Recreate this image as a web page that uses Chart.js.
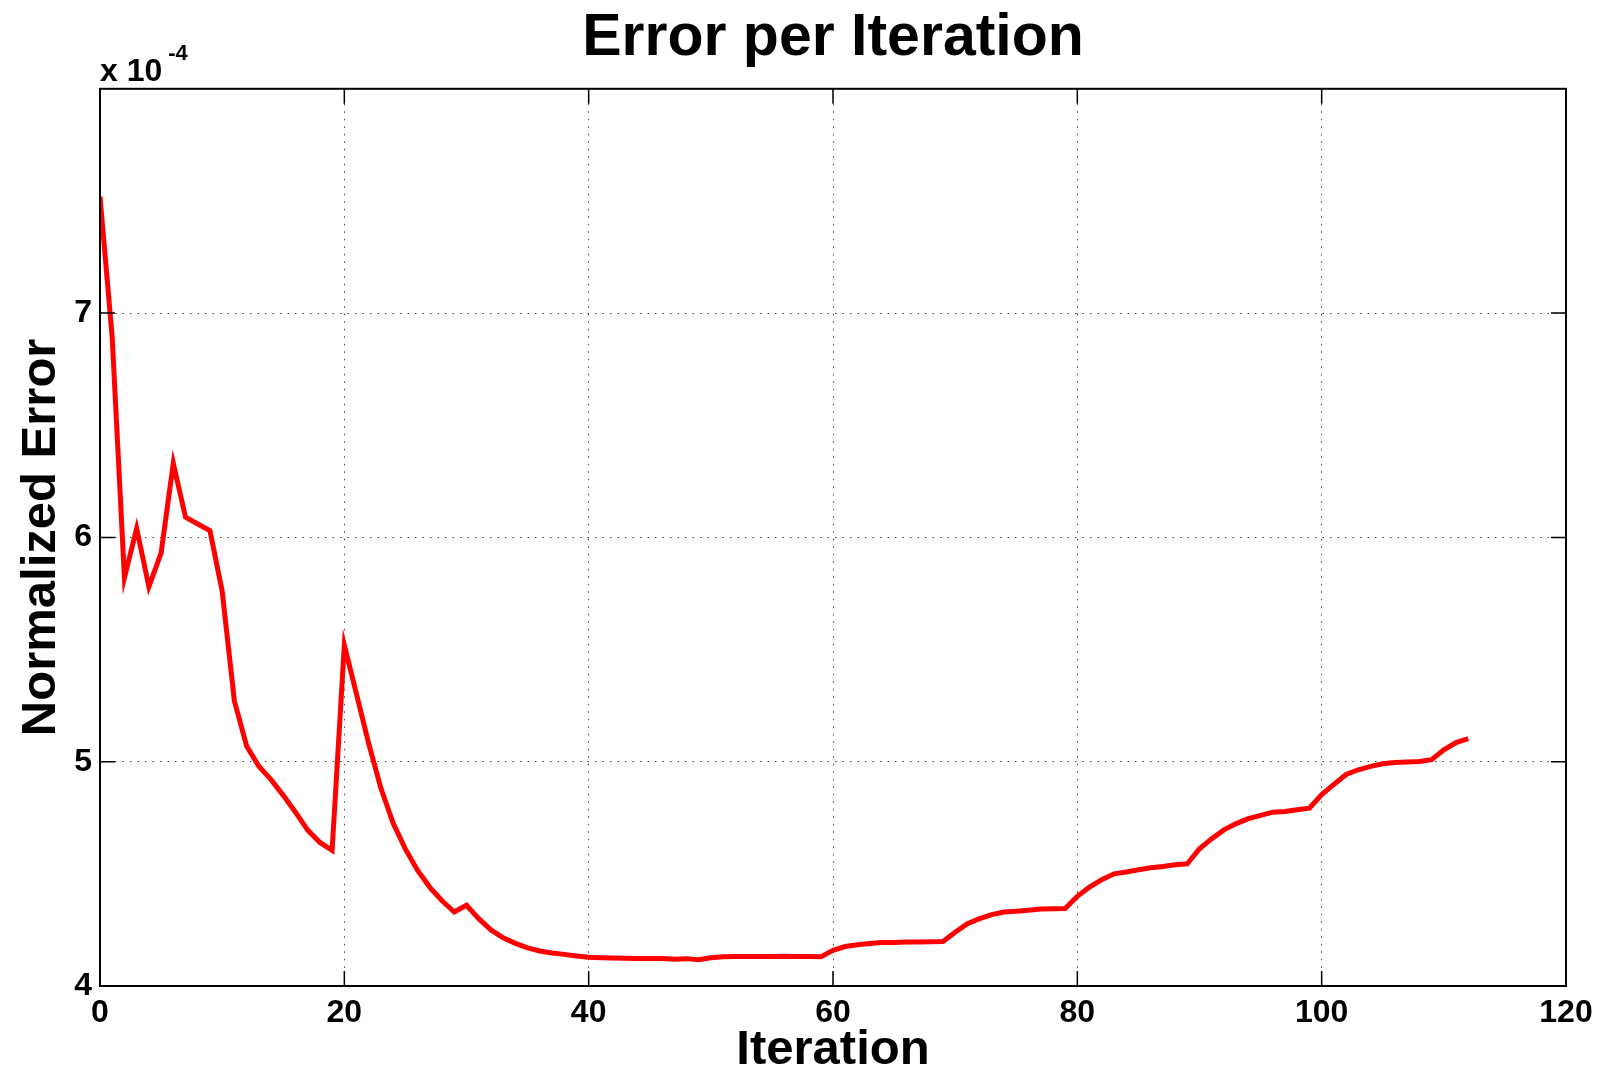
<!DOCTYPE html>
<html lang="en">
<head>
    <meta charset="UTF-8">
    <title>Error per Iteration</title>
    <script src="https://cdn.jsdelivr.net/npm/chart.js"></script>
    <style>
        html, body { margin: 0; padding: 0; background: #fff; }
        #wrap { width: 1600px; height: 1075px; }
    </style>
</head>
<body>
    <div id="wrap"><canvas id="errorChart"></canvas></div>

    <script>
        // normalized error (x 10^-4), one value per iteration starting at 0
        const errorValues = [
            7.52, 6.89, 5.82, 6.04, 5.78, 5.93, 6.33, 6.09, 6.06, 6.03,
            5.76, 5.27, 5.07, 4.98, 4.92, 4.85, 4.775, 4.695, 4.64, 4.605,
            5.52, 5.30, 5.08, 4.88, 4.725, 4.61, 4.515, 4.44, 4.38, 4.33,
            4.36, 4.30, 4.25, 4.215, 4.19, 4.17, 4.156, 4.147, 4.141, 4.134,
            4.128, 4.126, 4.125, 4.124, 4.123, 4.123, 4.123, 4.119, 4.122, 4.117,
            4.126, 4.130, 4.132, 4.132, 4.132, 4.132, 4.133, 4.132, 4.131, 4.130,
            4.159, 4.176, 4.184, 4.189, 4.194, 4.194, 4.196, 4.196, 4.197, 4.198,
            4.24, 4.278, 4.30, 4.318, 4.33, 4.333, 4.338, 4.343, 4.344, 4.345,
            4.40, 4.441, 4.474, 4.50, 4.508, 4.518, 4.527, 4.533, 4.541, 4.545,
            4.612, 4.657, 4.696, 4.724, 4.746, 4.761, 4.775, 4.778, 4.786, 4.793,
            4.853, 4.899, 4.943, 4.964, 4.979, 4.991, 4.996, 4.999, 5.001, 5.009,
            5.053, 5.085, 5.103
        ];
        const iterations = errorValues.map((_, i) => i);

        const xTicks = [0, 20, 40, 60, 80, 100, 120];
        const yTicks = [4, 5, 6, 7];

        const FONT = '"Liberation Sans", Arial, Helvetica, sans-serif';

        // matlab style box, inward ticks and the exponent label
        const matlabAxes = {
            id: 'matlabAxes',
            afterDraw(chart) {
                const { ctx, chartArea: a, scales } = chart;
                const tl = 15;
                ctx.save();
                ctx.strokeStyle = '#000';
                ctx.lineWidth = 2;
                ctx.strokeRect(a.left, a.top, a.right - a.left, a.bottom - a.top);
                ctx.lineWidth = 1.5;
                ctx.beginPath();
                xTicks.forEach(v => {
                    const px = scales.x.getPixelForValue(v);
                    ctx.moveTo(px, a.bottom); ctx.lineTo(px, a.bottom - tl);
                    ctx.moveTo(px, a.top); ctx.lineTo(px, a.top + tl);
                });
                yTicks.forEach(v => {
                    const py = scales.y.getPixelForValue(v);
                    ctx.moveTo(a.left, py); ctx.lineTo(a.left + tl, py);
                    ctx.moveTo(a.right, py); ctx.lineTo(a.right - tl, py);
                });
                ctx.stroke();

                ctx.fillStyle = '#000';
                ctx.textBaseline = 'alphabetic';
                ctx.textAlign = 'left';
                ctx.font = 'bold 32px ' + FONT;
                const base = 'x 10';
                ctx.fillText(base, a.left, a.top - 8);
                const w = ctx.measureText(base).width;
                ctx.font = 'bold 22px ' + FONT;
                ctx.fillText('-4', a.left + w + 6, a.top - 29);
                ctx.restore();
            }
        };

        const gridColor = ctx => {
            const v = ctx.tick && ctx.tick.value;
            return (v === ctx.scale.min || v === ctx.scale.max) ? 'rgba(0,0,0,0)' : '#444';
        };

        new Chart(document.getElementById('errorChart'), {
            type: 'line',
            data: {
                datasets: [{
                    label: 'Normalized Error',
                    data: iterations.map((it, i) => ({ x: it, y: errorValues[i] })),
                    borderColor: '#ff0000',
                    borderWidth: 5,
                    pointRadius: 0,
                    tension: 0,
                    fill: false
                }]
            },
            options: {
                responsive: true,
                maintainAspectRatio: false,
                animation: false,
                layout: { padding: { top: 0, right: 34, bottom: 0, left: 0 } },
                plugins: {
                    legend: { display: false },
                    tooltip: { enabled: false },
                    title: {
                        display: true,
                        fullSize: false,
                        text: 'Error per Iteration',
                        color: '#000',
                        font: { family: FONT, size: 59, weight: 'bold' },
                        padding: { top: 3, bottom: 15 }
                    }
                },
                scales: {
                    x: {
                        type: 'linear',
                        min: 0,
                        max: 120,
                        afterBuildTicks: s => { s.ticks = xTicks.map(v => ({ value: v })); },
                        afterFit: s => { s.height = 89; s.paddingLeft = 0; s.paddingRight = 0; },
                        grid: { color: gridColor, lineWidth: 1, drawTicks: false },
                        border: { display: false, dash: [1.5, 6] },
                        ticks: {
                            color: '#000',
                            padding: 8,
                            maxRotation: 0,
                            font: { family: FONT, size: 32, weight: 'bold' }
                        },
                        title: {
                            display: true,
                            text: 'Iteration',
                            color: '#000',
                            font: { family: FONT, size: 49, weight: 'bold', lineHeight: 1 },
                            padding: { top: 0, bottom: 0 }
                        }
                    },
                    y: {
                        type: 'linear',
                        min: 4,
                        max: 8,
                        afterBuildTicks: s => { s.ticks = yTicks.concat([8]).map(v => ({ value: v })); },
                        afterFit: s => { s.width = 100; s.paddingTop = 0; s.paddingBottom = 0; },
                        grid: { color: gridColor, lineWidth: 1, drawTicks: false },
                        border: { display: false, dash: [1.5, 6] },
                        ticks: {
                            color: '#000',
                            padding: 8,
                            font: { family: FONT, size: 32, weight: 'bold' },
                            callback: v => (yTicks.includes(v) ? String(v) : '')
                        },
                        title: {
                            display: true,
                            text: 'Normalized Error',
                            color: '#000',
                            font: { family: FONT, size: 49, weight: 'bold' },
                            padding: { top: 12, bottom: 0 }
                        }
                    }
                }
            },
            plugins: [matlabAxes]
        });
    </script>
</body>
</html>
